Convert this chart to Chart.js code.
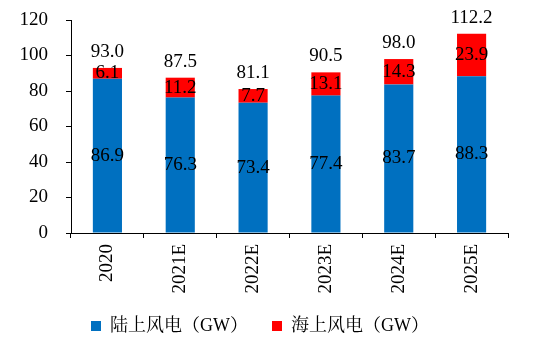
<!DOCTYPE html>
<html>
<head>
<meta charset="utf-8">
<script src="https://cdn.jsdelivr.net/npm/chart.js@4"></script>
<style>
  html, body { margin: 0; padding: 0; background: #fff; }
  #wrap { width: 544px; height: 353px; }
</style>
</head>
<body>
<div id="wrap"><canvas id="windChart" width="544" height="353"></canvas></div>
<script>
// chart data
const years = ["2020", "2021E", "2022E", "2023E", "2024E", "2025E"];
const onshore = [86.9, 76.3, 73.4, 77.4, 83.7, 88.3];
const offshore = [6.1, 11.2, 7.7, 13.1, 14.3, 23.9];
const totals = [93.0, 87.5, 81.1, 90.5, 98.0, 112.2];
const yTicks = [0, 20, 40, 60, 80, 100, 120];

const SERIF = "'Liberation Serif', 'Times New Roman', 'Noto Serif CJK SC', 'Noto Sans CJK SC', serif";

// =======================================================
// VALUE LABELS (segment values + totals on top)
// =======================================================
const valueLabels = {
    id: "valueLabels",
    afterDatasetsDraw(chart) {
        const ctx = chart.ctx;
        ctx.save();
        ctx.font = "19px " + SERIF;
        ctx.fillStyle = "#000";
        ctx.textAlign = "center";
        ctx.textBaseline = "middle";

        chart.data.datasets.forEach((ds, di) => {
            const meta = chart.getDatasetMeta(di);
            meta.data.forEach((bar, i) => {
                ctx.fillText(ds.data[i].toFixed(1), bar.x, (bar.y + bar.base) / 2);
            });
        });

        const topMeta = chart.getDatasetMeta(chart.data.datasets.length - 1);
        topMeta.data.forEach((bar, i) => {
            ctx.fillText(totals[i].toFixed(1), bar.x, bar.y - 16);
        });
        ctx.restore();
    }
};

new Chart(document.getElementById("windChart"), {
    type: "bar",
    data: {
        labels: years,
        datasets: [
            { label: "陆上风电（GW）", data: onshore, backgroundColor: "#0070C0" },
            { label: "海上风电（GW）", data: offshore, backgroundColor: "#FF0000" }
        ]
    },
    options: {
        responsive: false,
        animation: false,
        events: [],
        layout: { padding: { left: 12, right: 36, top: 20, bottom: 8 } },
        datasets: {
            bar: { barPercentage: 0.4, categoryPercentage: 1.0 }
        },
        scales: {
            x: {
                stacked: true,
                border: { color: "#000", width: 1 },
                grid: {
                    offset: true,
                    drawOnChartArea: false,
                    color: "#000",
                    tickLength: 5
                },
                ticks: {
                    color: "#000",
                    font: { family: SERIF, size: 19 },
                    maxRotation: 90,
                    minRotation: 90,
                    padding: 6
                },
                afterFit(scale) { scale.height = 60; }
            },
            y: {
                stacked: true,
                min: 0,
                max: 120,
                afterBuildTicks(scale) {
                    scale.ticks = yTicks.map(v => ({ value: v }));
                },
                border: { color: "#000", width: 1 },
                grid: {
                    drawOnChartArea: false,
                    color: "#000",
                    tickLength: 5
                },
                ticks: {
                    color: "#000",
                    font: { family: SERIF, size: 19 },
                    padding: 18
                },
                afterFit(scale) {
                    scale.width = 59;
                    scale.paddingTop = 0;
                    scale.paddingBottom = 0;
                }
            }
        },
        plugins: {
            legend: {
                position: "bottom",
                labels: {
                    color: "#000",
                    font: { family: SERIF, size: 18 },
                    boxWidth: 10,
                    boxHeight: 10,
                    padding: 24
                }
            },
            tooltip: { enabled: false }
        }
    },
    plugins: [valueLabels]
});
</script>
</body>
</html>
